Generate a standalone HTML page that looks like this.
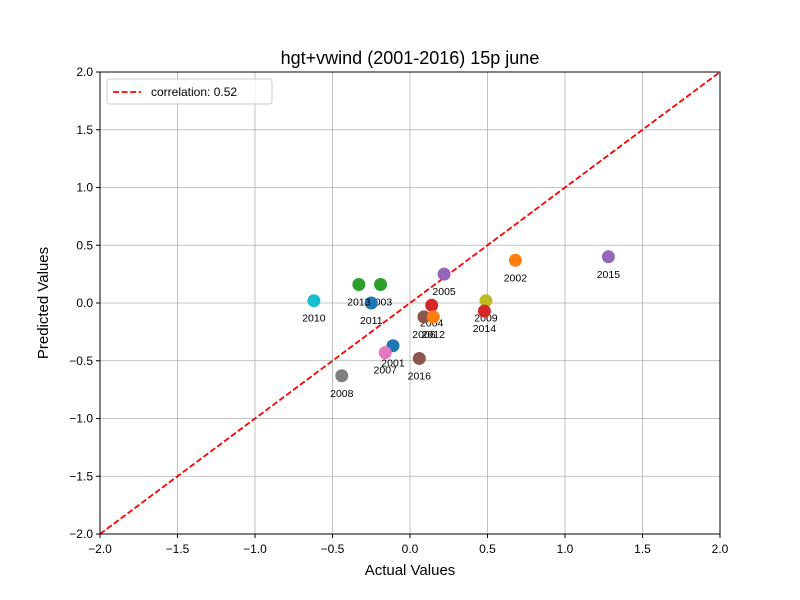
<!DOCTYPE html>
<html><head><meta charset="utf-8"><style>body{margin:0;background:#fff}svg{display:block;font-family:"Liberation Sans","DejaVu Sans",sans-serif}</style></head>
<body>
<svg id="chart" width="800" height="600"></svg>
<script>
const years=["2001","2002","2003","2004","2005","2006","2007","2008","2009","2010","2011","2012","2013","2014","2015","2016"];
const actual=[-0.11,0.68,-0.19,0.14,0.22,0.09,-0.16,-0.44,0.49,-0.62,-0.25,0.15,-0.33,0.48,1.28,0.06];
const predicted=[-0.37,0.37,0.16,-0.02,0.25,-0.12,-0.43,-0.63,0.02,0.02,0.00,-0.12,0.16,-0.07,0.40,-0.48];
const ticks=[-2,-1.5,-1,-0.5,0,0.5,1,1.5,2];
const tickLabels=["−2.0","−1.5","−1.0","−0.5","0.0","0.5","1.0","1.5","2.0"];
const colors=["#1f77b4","#ff7f0e","#2ca02c","#d62728","#9467bd","#8c564b","#e377c2","#7f7f7f","#bcbd22","#17becf"];
const corrLabel="correlation: 0.52";
const L=100,R=720,T=72,B=534;
const xs=v=>L+(v+2)/4*(R-L), ys=v=>B-(v+2)/4*(B-T);
const svg=document.getElementById('chart');const NS="http://www.w3.org/2000/svg";
function mk(tag,attrs,parent){const e=document.createElementNS(NS,tag);for(const k in attrs)e.setAttribute(k,attrs[k]);(parent||svg).appendChild(e);return e;}
ticks.forEach((t,i)=>{
 let g=mk('line',{x1:xs(t),x2:xs(t),y1:T,y2:B,stroke:'#b0b0b0','stroke-width':0.8});
 
 
 g=mk('line',{x1:L,x2:R,y1:ys(t),y2:ys(t),stroke:'#b0b0b0','stroke-width':0.8});
 
 
 mk('line',{x1:xs(t),x2:xs(t),y1:B,y2:B+4,stroke:'#000'});
 mk('line',{x1:L-4,x2:L,y1:ys(t),y2:ys(t),stroke:'#000'});
 let tx=mk('text',{x:xs(t),y:B+19,'text-anchor':'middle','font-size':12});tx.textContent=tickLabels[i];
 
 
 tx=mk('text',{x:L-7,y:ys(t)+4,'text-anchor':'end','font-size':12});tx.textContent=tickLabels[i];
 
 
});
let dl=mk('line',{x1:xs(-2),y1:ys(-2),x2:xs(2),y2:ys(2),stroke:'#ff0000','stroke-width':1.8,'stroke-dasharray':'6,2.6'});


years.forEach((y,i)=>{
 const c=mk('circle',{cx:xs(actual[i]),cy:ys(predicted[i]),r:6.5,fill:colors[i%10]});
 
 
 const t=mk('text',{x:xs(actual[i]),y:ys(predicted[i])+21,'text-anchor':'middle','font-size':10.5});t.textContent=y;
 
 
});
let fr=mk('rect',{x:L,y:T,width:R-L,height:B-T,fill:'none',stroke:'#000','stroke-width':1});


let lg=mk('rect',{x:107,y:79,width:165,height:25,rx:3,fill:'#fff',stroke:'#ccc','fill-opacity':0.8});


mk('line',{x1:113,x2:141,y1:92,y2:92,stroke:'#ff0000','stroke-width':1.8,'stroke-dasharray':'6,2.6'});
let lt=mk('text',{x:151,y:96,'font-size':12});lt.textContent=corrLabel;


let tt=mk('text',{x:410,y:64,'text-anchor':'middle','font-size':18});tt.textContent="hgt+vwind (2001-2016) 15p june";


let xt=mk('text',{x:410,y:575,'text-anchor':'middle','font-size':15});xt.textContent="Actual Values";


let yt=mk('text',{x:48,y:303,'text-anchor':'middle','font-size':15,transform:'rotate(-90 48 303)'});yt.textContent="Predicted Values";


</script>
</body></html>
